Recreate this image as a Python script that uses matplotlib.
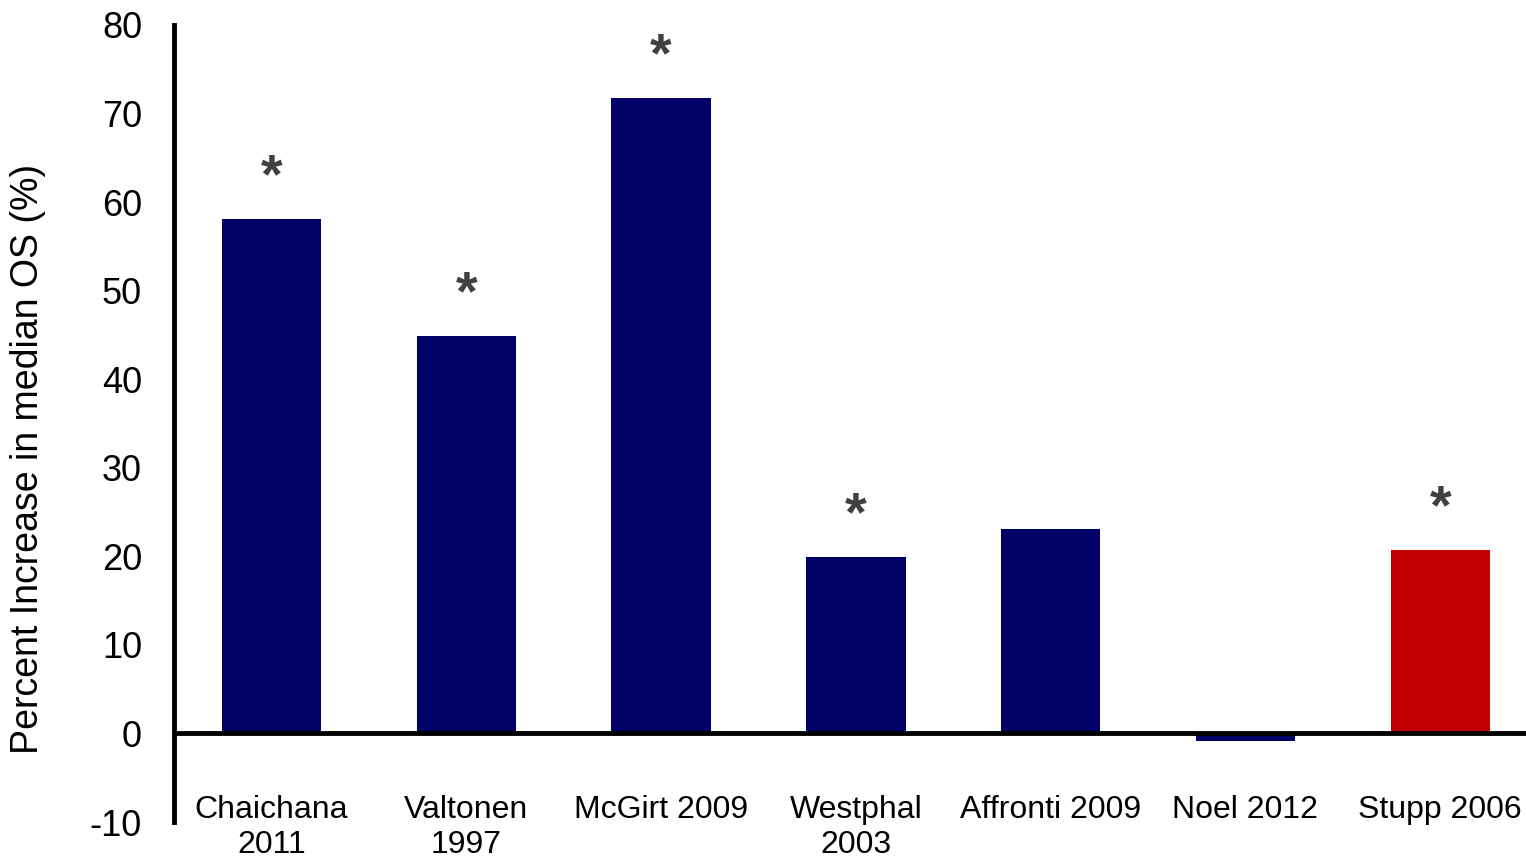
import matplotlib
matplotlib.use("Agg")
import matplotlib.pyplot as plt

plt.rcParams['font.family'] = ['Liberation Sans', 'DejaVu Sans']

studies = ["Chaichana\n2011", "Valtonen\n1997", "McGirt 2009", "Westphal\n2003",
           "Affronti 2009", "Noel 2012", "Stupp 2006"]
increase = [58.1, 44.9, 71.8, 19.9, 23.1, -0.9, 20.7]
significant = [True, True, True, True, False, False, True]
bar_colors = ["#000066"] * 6 + ["#C00000"]
yticks = [-10, 0, 10, 20, 30, 40, 50, 60, 70, 80]

fig = plt.figure(figsize=(15.26, 8.6), dpi=100)
ax = fig.add_axes([174 / 1526, 1 - 822 / 860, (1526 - 174) / 1526, (822 - 25) / 860])

x = list(range(len(studies)))
ax.bar(x, increase, width=0.51, color=bar_colors, zorder=2)

# significance markers above bars
for xi, v, sig in zip(x, increase, significant):
    if sig:
        ax.text(xi, v + 4.6, "*", ha="center", va="center", fontsize=40,
                fontweight="bold", color="#404040")

# study labels below the zero line
for xi, name in zip(x, studies):
    ax.text(xi, -7.0, name, ha="center", va="top", fontsize=23,
            linespacing=1.2, color="black")

ax.axhline(0, color="black", lw=3.5, zorder=3)
ax.set_xlim(-0.5, 6.44)
ax.set_ylim(-10, 80)
ax.set_yticks(yticks)
ax.set_yticklabels([str(t) for t in yticks], fontsize=26)
ax.tick_params(axis="y", length=0, pad=23)
ax.set_xticks([])

for side in ["top", "right", "bottom"]:
    ax.spines[side].set_visible(False)
ax.spines["left"].set_linewidth(3.5)

ax.set_ylabel("Percent Increase in median OS (%)", fontsize=27)
ax.yaxis.set_label_coords(-0.095, 0.455)

fig.savefig("out.png", dpi=100)
